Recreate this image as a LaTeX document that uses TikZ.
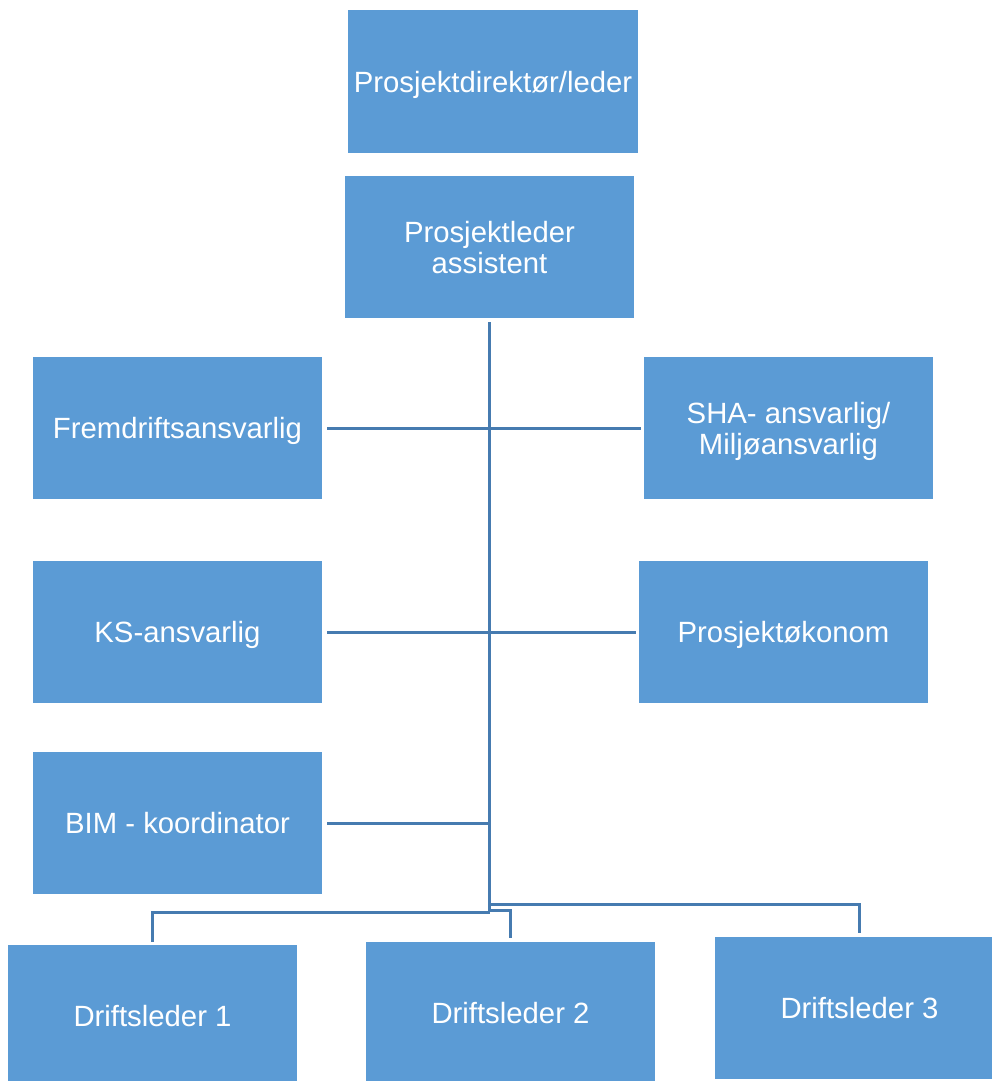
\documentclass[tikz,border=0pt]{standalone}
\usepackage{fontspec}
\setmainfont{Liberation Sans}
\usetikzlibrary{calc,positioning}
\definecolor{boxblue}{HTML}{5B9BD5}
\definecolor{lineblue}{HTML}{467BB0}
\tikzset{
    orgbox/.style={fill=boxblue, text=white, minimum width=289pt, minimum height=142pt,
        inner sep=0pt, text depth=0pt, align=center, font=\fontsize{29.3}{31}\selectfont},
    conn/.style={draw=lineblue, line width=3pt},
}

\begin{document}
\begin{tikzpicture}[x=1pt,y=-1pt]
\clip (0,0) rectangle (992,1081);
\useasboundingbox (0,0) rectangle (992,1081);
%Boxes
\node[orgbox, minimum width=290pt, minimum height=143pt] (dir) at (493,81.5) {Prosjektdirektør/leder};
\node[orgbox] (ass) at (489.5,247) {Prosjektleder\\assistent};
\node[orgbox] (frem) at (177.5,428) {Fremdriftsansvarlig};
\node[orgbox] (sha) at (788.5,428) {SHA- ansvarlig/\\Miljøansvarlig};
\node[orgbox] (ks) at (177.5,632) {KS-ansvarlig};
\node[orgbox] (oko) at (783.5,632) {Prosjektøkonom};
\node[orgbox] (bim) at (177.5,823) {BIM - koordinator};
\node[orgbox] (dl1) at (152.5,1016) {Driftsleder 1};
\node[orgbox] (dl2) at (510.5,1013) {Driftsleder 2};
\node[orgbox] (dl3) at (859.5,1008) {Driftsleder 3};
%Trunk
\coordinate (top) at ([yshift=-4pt]ass.south);
\coordinate (bot) at ($(top)+(0,590)$);
\draw[conn] (top) -- (bot);
%Side lines
\draw[conn] ([xshift=5pt]frem.east) -- ([xshift=-3pt]sha.west);
\draw[conn] ([xshift=5pt]ks.east) -- ([xshift=-3pt]oko.west);
\draw[conn] ([xshift=5pt]bim.east) -- (bim.east -| top);
%Bottom lines
\draw[conn] (bot) -| ([yshift=3pt]dl1.north);
\draw[conn] ($(bot)+(0,-2)$) -| ([yshift=4pt]dl2.north);
\draw[conn] ($(bot)+(0,-8)$) -| ([yshift=4pt]dl3.north);
\end{tikzpicture}
\end{document}
